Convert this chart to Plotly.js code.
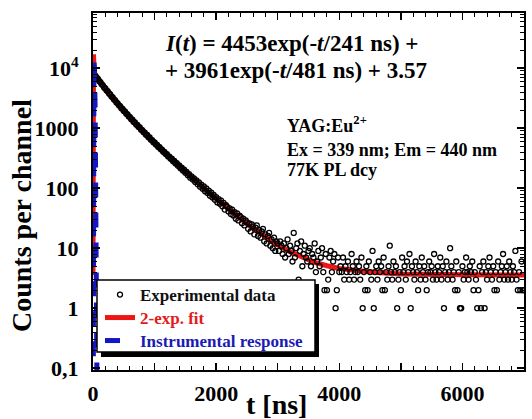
<!DOCTYPE html>
<html>
<head>
<meta charset="utf-8">
<script src="https://cdn.plot.ly/plotly-3.0.1.min.js"></script>
<style>
html,body{margin:0;padding:0;background:#fff;}
#chart{width:532px;height:419px;}
</style>
</head>
<body>
<div id="chart"></div>
<script>
// ---- Data ----
// Detector channel grid: first channel time and channel width (ns)
const channelStart = 0;
const channelWidth = 20;

// Experimental counts per channel, channel 0 at t = 0 ns, then every 20 ns up to 7000 ns
const countsPreTrigger = [6];
const counts0to1000 = [7850,7460,6930,6610,6120,5830,5400,5190,4790,4600,
  4250,4110,3790,3650,3370,3260,3010,2920,2690,2600,
  2410,2340,2150,2100,1940,1890,1740,1700,1570,1530,
  1410,1390,1270,1250,1150,1130,1045,1030,945,930,
  860,845,775,770,705,700,640,635,585,580];
const counts1000to2000 = [535,528,486,481,444,440,405,402,370,368,
  338,336,309,310,281,284,258,262,236,240,
  216,220,197,203,181,187,165,172,150,158,
  139,146,127,135,116,125,106,115,98,107,
  89,99,83,91,75,84,70,77,64,71];
const counts2000to3000 = [58,66,55,62,50,57,44,52,49,41,
  46,37,44,35,40,31,38,29,35,33,
  26,31,24,29,27,21,26,19,25,23,
  17,22,24,16,20,15,19,21,13,17,
  12,16,18,11,14,10,15,9,13,12];
const counts3000to4000 = [9,13,11,8,12,7,10,14,8,11,
  9,6,18,7,10,12,3,9,13,5,
  8,11,7,6,9,10,5,8,7,12,
  4,6,9,5,7,10,4,2,8,2,
  3,7,9,4,6,8,1,2,7,4];
const counts4000to7000 = [5,4,7,3,5,4,6,3,4,8,
  5,3,4,6,4,5,3,7,1,4,
  2,5,2,6,4,3,9,1,4,5,
  3,6,4,5,2,7,2,4,3,5,
  11,4,3,6,4,5,1,3,4,2,
  7,4,5,3,6,4,8,1,5,4,
  3,6,4,2,5,3,7,4,5,3,
  2,4,6,4,5,3,8,4,3,5,
  4,7,3,5,1,4,6,3,4,10,
  5,3,4,2,6,2,4,1,1,5,
  3,4,7,4,3,5,4,6,2,4,
  3,1,2,5,1,4,6,1,4,3,
  5,7,4,3,5,2,4,2,6,3,
  4,5,8,3,4,5,3,6,4,3,
  5,4,9,3,2,4,2,6,2,2];

// Two-exponential fit curve, I(t) = 4453exp(-t/241) + 3961exp(-t/481) + 3.57
const fitTime = [0,8,20,100,200,300,400,500,600,700,800,900,1000,1100,1200,1300,1400,1500,1600,1700,1800,1900,2000,
  2100,2200,2300,2400,2500,2600,2700,2800,2900,3000,3200,3400,3600,3800,4000,4500,5000,6000,7000];
const fitCounts = [3.57,17000,7902,6162,4559,3409,2575,1964,1511,1172,916,720,569,452,361,289,233,188,152,123,100,81.6,66.6,
  54.6,45.0,37.1,30.8,25.6,21.4,18.1,15.3,13.1,11.35,8.7,7.0,5.8,5.1,4.6,4.0,3.7,3.6,3.57];

// Instrumental response (IRF)
const irfTime = [5,10,15,25,35,45,55,65];
const irfCounts = [0.05,3000,14000,9000,2000,200,5,0.05];

// Axis labels
const yTickVals = [0.1,1,10,100,1000,10000];
const yTickText = ['0,1','1','10','100','1000','10<sup>4</sup>'];
const xTickVals = [0,1000,2000,3000,4000,5000,6000,7000];
const xTickText = ['0','','2000','','4000','','6000',''];

// ---- Build ----
const counts = [].concat(countsPreTrigger, counts0to1000, counts1000to2000, counts2000to3000, counts3000to4000, counts4000to7000);
const times = counts.map((_, i) => channelStart + i * channelWidth);

const yMinor = [];
for (let d = -1; d <= 4; d++) for (let m = 2; m <= 9; m++) yMinor.push(m * Math.pow(10, d));

const FONT = 'Liberation Serif';
const RED = '#ee1515';
const BLUE = '#1414c8';

const traces = [
  {x: fitTime, y: fitCounts, type: 'scatter', mode: 'lines', name: '<span style="color:#e31a1a">2-exp. fit</span>',
   line: {color: RED, width: 5}, legend: 'legend2'},
  {x: times, y: counts, type: 'scatter', mode: 'markers', name: 'Experimental data',
   marker: {symbol: 'circle-open', size: 5, color: '#000', line: {width: 1.3, color: '#000'}}, legend: 'legend'},
  {x: irfTime, y: irfCounts, type: 'scatter', mode: 'lines', name: '<span style="color:#1a1ab4">Instrumental response</span>',
   line: {color: BLUE, width: 5, dash: 'dash'}, legend: 'legend3'}
];

const W = 431, H = 357, L = 93, T = 13;
const px = v => (v - L) / W;
const py = v => (T + H - v) / H;

const legendBase = (yc) => ({
  x: px(100), y: py(yc), xanchor: 'left', yanchor: 'middle',
  bgcolor: 'rgba(0,0,0,0)', borderwidth: 0,
  font: {family: FONT, size: 17, color: '#111', weight: 700},
  tracegroupgap: 0, itemwidth: 30
});

const layout = {
  width: 532, height: 419,
  margin: {l: L, r: 532 - L - W, t: T, b: 419 - T - H, pad: 0},
  paper_bgcolor: '#fff', plot_bgcolor: '#fff',
  font: {family: FONT, size: 22, color: '#000', weight: 700},
  showlegend: true,
  xaxis: {
    range: [0, 7000], showgrid: false, zeroline: false,
    showline: true, linecolor: '#000', linewidth: 2, mirror: 'ticks',
    ticks: 'inside', ticklen: 7, tickwidth: 1.5, tickcolor: '#000',
    tickvals: xTickVals, ticktext: xTickText, ticklabelstandoff: 3,
    tickfont: {family: FONT, size: 22, color: '#000', weight: 700},
    minor: {dtick: 200, ticks: 'inside', ticklen: 4, tickwidth: 1, tickcolor: '#000', showgrid: false}
  },
  yaxis: {
    type: 'log', range: [-1.03, 4.92], showgrid: false, zeroline: false,
    showline: true, linecolor: '#000', linewidth: 2, mirror: 'ticks',
    ticks: 'inside', ticklen: 7, tickwidth: 1.5, tickcolor: '#000',
    tickvals: yTickVals, ticktext: yTickText, ticklabelstandoff: 8,
    tickfont: {family: FONT, size: 22, color: '#000', weight: 700},
    minor: {tickvals: yMinor, ticks: 'inside', ticklen: 4, tickwidth: 1, tickcolor: '#000', showgrid: false}
  },
  legend: legendBase(295),
  legend2: legendBase(318),
  legend3: legendBase(341),
  shapes: [
    {type: 'rect', xref: 'paper', yref: 'paper', x0: px(101), x1: px(319), y0: py(357), y1: py(284),
     fillcolor: '#000', line: {width: 0}, layer: 'above'},
    {type: 'rect', xref: 'paper', yref: 'paper', x0: px(97), x1: px(315), y0: py(352), y1: py(280),
     fillcolor: '#fff', line: {width: 1.5, color: '#000'}, layer: 'above'}
  ],
  annotations: [
    {xref: 'paper', yref: 'paper', x: px(21), y: py(216), text: 'Counts per channel', textangle: -90,
     showarrow: false, xanchor: 'center', yanchor: 'middle', font: {family: FONT, size: 28, color: '#000', weight: 700}},
    {xref: 'paper', yref: 'paper', x: px(276), y: py(404), text: 't [ns]',
     showarrow: false, xanchor: 'center', yanchor: 'middle', font: {family: FONT, size: 28, color: '#000', weight: 700}},
    {xref: 'paper', yref: 'paper', x: px(163), y: py(43), text: '<i>I</i>(<i>t</i>) = 4453exp(-<i>t</i>/241 ns) +',
     showarrow: false, xanchor: 'left', yanchor: 'middle', font: {family: FONT, size: 23, color: '#000', weight: 700}},
    {xref: 'paper', yref: 'paper', x: px(163), y: py(70), text: '+ 3961exp(-<i>t</i>/481 ns) + 3.57',
     showarrow: false, xanchor: 'left', yanchor: 'middle', font: {family: FONT, size: 23, color: '#000', weight: 700}},
    {xref: 'paper', yref: 'paper', x: px(285), y: py(124), text: 'YAG:Eu<sup>2+</sup>',
     showarrow: false, xanchor: 'left', yanchor: 'middle', font: {family: FONT, size: 18, color: '#000', weight: 700}},
    {xref: 'paper', yref: 'paper', x: px(285), y: py(150), text: 'Ex = 339 nm; Em = 440 nm',
     showarrow: false, xanchor: 'left', yanchor: 'middle', font: {family: FONT, size: 18, color: '#000', weight: 700}},
    {xref: 'paper', yref: 'paper', x: px(285), y: py(170), text: '77K PL dcy',
     showarrow: false, xanchor: 'left', yanchor: 'middle', font: {family: FONT, size: 18, color: '#000', weight: 700}}
  ]
};

Plotly.newPlot('chart', traces, layout, {staticPlot: true, displayModeBar: false});
</script>
</body>
</html>
